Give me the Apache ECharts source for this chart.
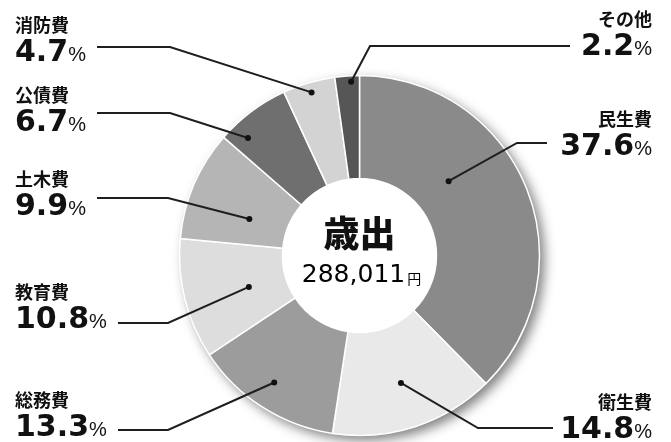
<!DOCTYPE html>
<html><head><meta charset="utf-8">
<script src="https://cdn.jsdelivr.net/npm/echarts@6/dist/echarts.min.js"></script>
<style>html,body{margin:0;padding:0;background:#fff}#c{width:671px;height:442px}</style>
</head><body><div id="c"></div>
<script>
// ---- data ----
const categories = ['民生費','衛生費','総務費','教育費','土木費','公債費','消防費','その他'];
const shares = [37.6, 14.8, 13.3, 10.8, 9.9, 6.7, 4.7, 2.2];
const totalLabel = '歳出';
const totalAmount = '288,011';
const totalUnit = '円';

// ---- style / layout ----
const sliceColors = ['#8a8a8a','#e8e9e8','#9c9c9c','#dcdddc','#b5b5b5','#6f6f6f','#d3d3d3','#565656'];
const CX = 359.5, CY = 255.5, R_OUT = 180, R_IN = 77;
const labelSpots = [
  {side:'right', top:112, elbow:[517,143], end:[547,143], dotShift:-17.5, dotR:116},
  {side:'right', top:395, elbow:[478,428], end:[553,428], dotShift:0,     dotR:134},
  {side:'left',  top:393, elbow:[168,430], end:[118,430], dotShift:1.3,   dotR:153},
  {side:'left',  top:285, elbow:[168,323], end:[118,323], dotShift:-1.8,  dotR:115},
  {side:'left',  top:172, elbow:[168,198], end:[97,198],  dotShift:-4.9,  dotR:116},
  {side:'left',  top:88,  elbow:[170,113], end:[97,113],  dotShift:-6.6,  dotR:162},
  {side:'left',  top:18,  elbow:[170,47],  end:[97,47],   dotShift:0,     dotR:170},
  {side:'right', top:12,  elbow:[370,46],  end:[570,46],  dotShift:1.2,   dotR:174}
];

const total = shares.reduce((a,b)=>a+b,0);
function polar(deg, r){ const a = deg*Math.PI/180; return [CX + r*Math.sin(a), CY - r*Math.cos(a)]; }
let acc = 0;
const dotPos = shares.map((v,i)=>{
  const mid = (acc + v/2)/total*360; acc += v;
  return polar(mid + labelSpots[i].dotShift, labelSpots[i].dotR);
});

const chart = echarts.init(document.getElementById('c'), null, {renderer:'canvas'});
chart.setOption({
  animation:false,
  backgroundColor:'#fff',
  graphic: [
    ...dotPos.map((p,i)=>({type:'polyline', z:100, shape:{points:[p, labelSpots[i].elbow, labelSpots[i].end]}, style:{stroke:'#1e1e1e', lineWidth:2, fill:null}})),
    ...dotPos.map(p=>({type:'circle', z:101, shape:{cx:p[0], cy:p[1], r:3}, style:{fill:'#111'}})),
    {type:'text', z:100, x:CX, y:233, style:{text:totalLabel, font:'900 36px "Noto Sans CJK JP"', fill:'#111', align:'center', verticalAlign:'middle'}},
    {type:'text', z:100, x:CX+2, y:275, style:{
      text:'{a|'+totalAmount+'}{u|'+totalUnit+'}', align:'center', verticalAlign:'middle',
      rich:{a:{fontFamily:'DejaVu Sans', fontSize:25, color:'#111'}, u:{fontFamily:'Noto Sans CJK JP', fontSize:14, color:'#111', padding:[7,0,0,2]}}
    }}
  ],
  series: [
    {
      type:'pie', z:1, silent:true, center:[CX, CY], radius:[0, R_OUT], startAngle:90,
      label:{show:false}, labelLine:{show:false},
      itemStyle:{color:'#fff', shadowBlur:12, shadowOffsetX:5, shadowOffsetY:5, shadowColor:'rgba(0,0,0,0.5)'},
      data:[{value:1, name:'bg'}]
    },
    {
      type:'pie', z:2, silent:true, center:[CX, CY], radius:[R_IN, R_OUT], startAngle:90, clockwise:true,
      avoidLabelOverlap:false,
      itemStyle:{borderColor:'#fff', borderWidth:1.5},
      label:{
        show:true, position:'outside',
        formatter: p => '{n|'+p.name+'}\n{v|'+shares[p.dataIndex].toFixed(1)+'}{p|%}',
        rich:{
          n:{fontFamily:'Noto Sans CJK JP', fontWeight:'bold', fontSize:18, lineHeight:24, color:'#111'},
          v:{fontFamily:'DejaVu Sans', fontWeight:'bold', fontSize:30, lineHeight:32, color:'#111'},
          p:{fontFamily:'Liberation Sans', fontSize:20, lineHeight:32, color:'#111', padding:[4,0,0,0]}
        }
      },
      labelLine:{show:false},
      labelLayout: function(params){
        const s = labelSpots[params.dataIndex];
        return {
          x: s.side==='left' ? 15 : 652,
          y: s.top - 4.5,
          align: s.side,
          verticalAlign:'top'
        };
      },
      data: categories.map((c,i)=>({name:c, value:shares[i], itemStyle:{color:sliceColors[i]}}))
    }
  ]
});
</script>
</body></html>
